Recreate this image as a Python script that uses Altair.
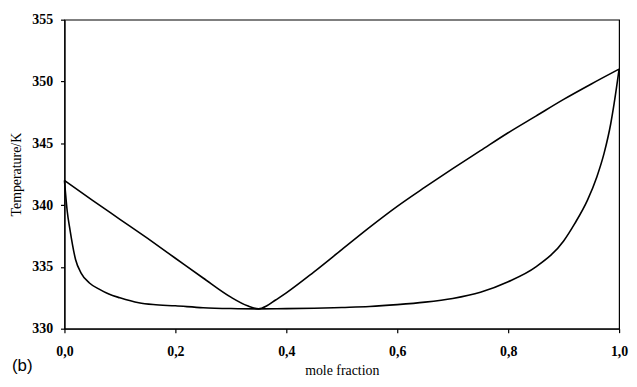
import altair as alt
import pandas as pd

# Dew (vapour) curve
dew_x = [0.0, 0.05, 0.1, 0.15, 0.2, 0.25, 0.3, 0.33, 0.35, 0.365, 0.38, 0.4, 0.45, 0.5,
         0.55, 0.6, 0.65, 0.7, 0.75, 0.8, 0.85, 0.9, 0.95, 1.0]
dew_T = [342.0, 340.4, 338.85, 337.3, 335.7, 334.1, 332.55, 331.85, 331.6, 331.85, 332.3,
         332.9, 334.6, 336.4, 338.2, 339.9, 341.45, 342.95, 344.4, 345.85, 347.2, 348.55, 349.8, 351.0]

# Bubble (liquid) curve
bub_x = [0.0, 0.005, 0.01, 0.02, 0.03, 0.045, 0.0625, 0.08, 0.1, 0.134, 0.16, 0.2, 0.25, 0.3,
         0.35, 0.4, 0.45, 0.5, 0.55, 0.6, 0.65, 0.7, 0.75, 0.8, 0.85, 0.9, 0.92, 0.943, 0.96,
         0.973, 0.985, 0.991, 1.0]
bub_T = [342.0, 339.5, 338.0, 335.6, 334.5, 333.7, 333.2, 332.8, 332.5, 332.1, 331.95, 331.85,
         331.7, 331.63, 331.6, 331.62, 331.65, 331.72, 331.8, 331.95, 332.15, 332.45, 332.95,
         333.8, 335.0, 337.1, 338.5, 340.4, 342.3, 344.2, 346.6, 348.2, 351.0]

x_ticks = [0.0, 0.2, 0.4, 0.6, 0.8, 1.0]
y_ticks = [330, 335, 340, 345, 350, 355]

rows = []
for i, (x, t) in enumerate(zip(dew_x, dew_T)):
    rows.append({"x": x, "T": t, "curve": "dew", "o": i})
for i, (x, t) in enumerate(zip(bub_x, bub_T)):
    rows.append({"x": x, "T": t, "curve": "bubble", "o": i})
df = pd.DataFrame(rows)

serif = "Liberation Serif"

lines = alt.Chart(df).mark_line(color="black", strokeWidth=1.6, interpolate="monotone").encode(
    x=alt.X("x:Q", scale=alt.Scale(domain=[0, 1], nice=False),
            axis=alt.Axis(values=x_ticks, labelExpr="replace(format(datum.value, '.1f'), '.', ',')",
                          title="mole fraction", grid=False, tickSize=4, labelPadding=12,
                          labelFlush=False, titlePadding=5)),
    y=alt.Y("T:Q", scale=alt.Scale(domain=[330, 355], nice=False, zero=False),
            axis=alt.Axis(values=y_ticks, title="Temperature/K", grid=False, tickSize=4,
                          labelPadding=8, labelFlush=False, titlePadding=8)),
    detail="curve:N",
    order="o:Q",
)

label_b = alt.Chart(pd.DataFrame({"t": ["(b)"]})).mark_text(
    font="Liberation Sans", fontSize=17, align="left", baseline="middle", color="black"
).encode(text="t:N", x=alt.value(-53), y=alt.value(350))

chart = alt.layer(lines, label_b).properties(
    width=560, height=312,
    autosize=alt.AutoSizeParams(type="none"),
    padding={"left": 57, "top": 10, "right": 10, "bottom": 48},
).configure_view(
    stroke="black", strokeWidth=1.2
).configure_axis(
    domainColor="black", domainWidth=1.2, tickColor="black", tickWidth=1.2,
    labelFont=serif, labelFontSize=14, labelFontWeight="bold", labelColor="black",
    titleFont=serif, titleFontSize=14, titleFontWeight="normal", titleColor="black",
)

chart.save("out.html", embed_options={"renderer": "svg", "actions": False})
